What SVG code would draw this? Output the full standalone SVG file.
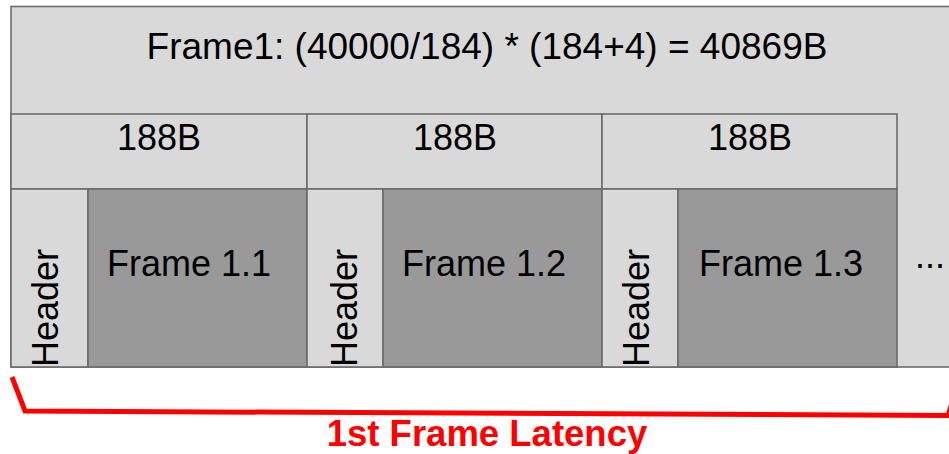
<svg xmlns="http://www.w3.org/2000/svg" width="949" height="454" viewBox="0 0 949 454">
<style>
.light{fill:#d9d9d9;stroke:#6b6b6b;stroke-width:1.6}
.dark{fill:#999999;stroke:#6b6b6b;stroke-width:1.6}
.t{font-family:"Liberation Sans",Arial,sans-serif;font-size:36px;fill:#000}
.mid{text-anchor:middle}
.red{font-family:"Liberation Sans",Arial,sans-serif;font-size:36.5px;font-weight:bold;fill:#ff0000;text-anchor:middle}
</style>
<rect width="949" height="454" fill="#ffffff"/>
<g id="frame1">
<rect class="light" x="11" y="6.5" width="950" height="360.5"/>
<text class="t mid" x="487" y="59" style="font-size:37px">Frame1: (40000/184) * (184+4) = 40869B</text>
</g>
<g id="pkt1">
<rect class="light" x="11" y="114" width="296" height="75"/>
<text class="t mid" x="159" y="150">188B</text>
</g>
<g id="pkt2">
<rect class="light" x="307" y="114" width="295" height="75"/>
<text class="t mid" x="455" y="150">188B</text>
</g>
<g id="pkt3">
<rect class="light" x="602" y="114" width="295" height="75"/>
<text class="t mid" x="750" y="150">188B</text>
</g>
<g id="header1">
<rect class="light" x="11" y="189" width="77" height="178"/>
<text class="t" transform="translate(58,367) rotate(-90)">Header</text>
</g>
<g id="payload1">
<rect class="dark" x="88" y="189" width="219" height="178"/>
<text class="t" x="107" y="276">Frame 1.1</text>
</g>
<g id="header2">
<rect class="light" x="307" y="189" width="76" height="178"/>
<text class="t" transform="translate(357,367) rotate(-90)">Header</text>
</g>
<g id="payload2">
<rect class="dark" x="383" y="189" width="219" height="178"/>
<text class="t" x="402" y="276">Frame 1.2</text>
</g>
<g id="header3">
<rect class="light" x="602" y="189" width="76" height="178"/>
<text class="t" transform="translate(649,367) rotate(-90)">Header</text>
</g>
<g id="payload3">
<rect class="dark" x="678" y="189" width="219" height="178"/>
<text class="t" x="699" y="276">Frame 1.3</text>
</g>
<g id="more">
<text class="t" x="915" y="268">...</text>
</g>
<g id="connectors">
<polyline points="12,377 25,411 948,415.5 953,400" fill="none" stroke="#ff0000" stroke-width="5" stroke-linejoin="miter"/>
</g>
<g id="latency-label">
<text class="red" x="487" y="446">1st Frame Latency</text>
</g>
</svg>
